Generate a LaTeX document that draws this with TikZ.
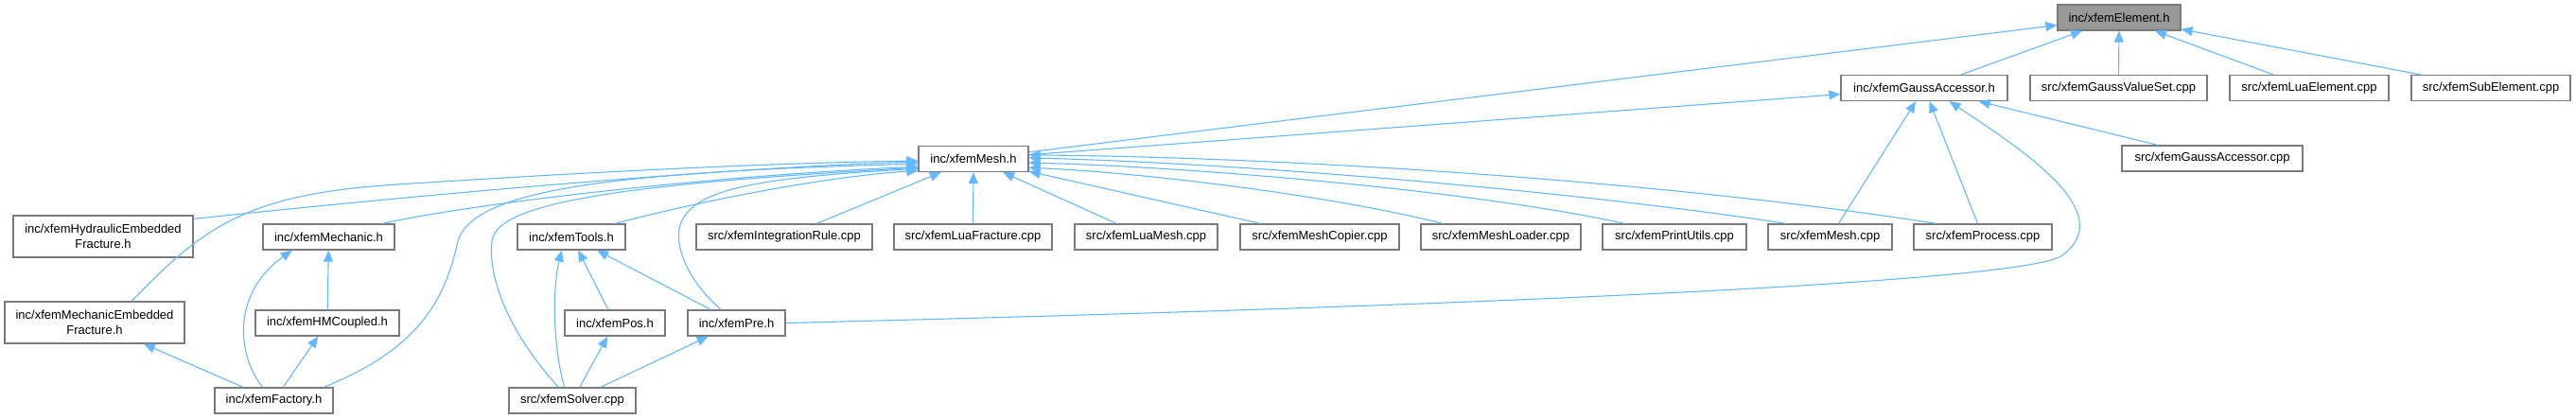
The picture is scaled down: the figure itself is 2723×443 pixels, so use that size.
\documentclass[tikz,border=0pt]{standalone}
\usepackage{fontspec}
\setmainfont{Liberation Sans}
\usetikzlibrary{arrows.meta}

\definecolor{edgeblue}{HTML}{63B8FF}
\definecolor{boxgray}{HTML}{7A7A7A}
\definecolor{fillgray}{HTML}{999999}

\tikzset{
  filebox/.style={draw=boxgray, line width=1.2pt, fill=white, minimum height=27pt,
    inner sep=0pt, align=center, font=\fontsize{13pt}{16pt}\selectfont},
  incl/.style={-{Triangle[length=12pt,width=10pt]}, draw=edgeblue, line width=1.1pt},
}

\begin{document}
\begin{tikzpicture}[x=1pt,y=-1pt]
\useasboundingbox (0,0) rectangle (2723,443);

% files
\node[filebox, fill=fillgray, minimum width=130pt] (elem) at (2240,18.5) {inc/xfemElement.h};

\node[filebox, minimum width=176pt] (gacc)  at (2034,93)   {inc/xfemGaussAccessor.h};
\node[filebox, minimum width=187pt] (gvs)   at (2239.5,93) {src/xfemGaussValueSet.cpp};
\node[filebox, minimum width=168pt] (luael) at (2441,93)   {src/xfemLuaElement.cpp};
\node[filebox, minimum width=168pt] (subel) at (2633,93)   {src/xfemSubElement.cpp};

\node[filebox, minimum width=116pt] (mesh)    at (1029,168)     {inc/xfemMesh.h};
\node[filebox, minimum width=191pt] (gacccpp) at (2338.5,167.5) {src/xfemGaussAccessor.cpp};

\node[filebox, minimum width=190pt, minimum height=44pt] (hydr) at (109,250) {inc/xfemHydraulicEmbedded\\Fracture.h};
\node[filebox, minimum width=139pt] (mech)    at (347.5,250.5)  {inc/xfemMechanic.h};
\node[filebox, minimum width=114pt] (tools)   at (604,250.5)    {inc/xfemTools.h};
\node[filebox, minimum width=186pt] (intrule) at (829,250.5)    {src/xfemIntegrationRule.cpp};
\node[filebox, minimum width=167pt] (luafrac) at (1028.5,250.5) {src/xfemLuaFracture.cpp};
\node[filebox, minimum width=151pt] (luamesh) at (1211.5,250.5) {src/xfemLuaMesh.cpp};
\node[filebox, minimum width=168pt] (copier)  at (1395,250.5)   {src/xfemMeshCopier.cpp};
\node[filebox, minimum width=169pt] (loader)  at (1586.5,250.5) {src/xfemMeshLoader.cpp};
\node[filebox, minimum width=152pt] (putil)   at (1770,250.5)   {src/xfemPrintUtils.cpp};
\node[filebox, minimum width=131pt] (xmesh)   at (1934.5,250.5) {src/xfemMesh.cpp};
\node[filebox, minimum width=146pt] (proc)    at (2096,250.5)   {src/xfemProcess.cpp};

\node[filebox, minimum width=190pt, minimum height=44pt] (mecemb) at (100,341) {inc/xfemMechanicEmbedded\\Fracture.h};
\node[filebox, minimum width=152pt] (hmc) at (346,341.5)   {inc/xfemHMCoupled.h};
\node[filebox, minimum width=106pt] (pos) at (650,341.5)   {inc/xfemPos.h};
\node[filebox, minimum width=103pt] (pre) at (778.5,341.5) {inc/xfemPre.h};

\node[filebox, minimum width=125pt] (fact)   at (289.5,423.5) {inc/xfemFactory.h};
\node[filebox, minimum width=134pt] (solver) at (605,423.5)   {src/xfemSolver.cpp};

% includes of xfemElement.h
\draw[incl] (mesh) -- (elem);
\draw[incl] (gacc) -- (elem);
\draw[incl] (gvs) -- (elem);
\draw[incl] (luael) -- (elem);
\draw[incl] (subel) -- (elem);

% includes of xfemGaussAccessor.h
\draw[incl] (mesh) -- (gacc);
\draw[incl] (gacccpp) -- (gacc);
\draw[incl] (xmesh) -- (gacc);
\draw[incl] (proc) -- (gacc);
\draw[incl] (pre.east) .. controls (1500,325) and (2140,300) .. (2180,270)
  .. controls (2240,225) and (2140,160) .. (gacc.-28);

% includes of xfemMesh.h
\draw[incl] (hydr.11) .. controls (500,200) and (800,176) .. (mesh.183);
\draw[incl] (mecemb.30) .. controls (215,240) and (260,205) .. (420,195)
  .. controls (620,182) and (820,172) .. (mesh.182);
\draw[incl] (mech.14) .. controls (500,215) and (750,186) .. (mesh.188);
\draw[incl] (fact.15) .. controls (440,370) and (470,320) .. (484,255)
  .. controls (500,200) and (650,182) .. (mesh.185);
\draw[incl] (solver.136) .. controls (545,360) and (515,300) .. (520,255)
  .. controls (525,215) and (650,195) .. (mesh.189);
\draw[incl] (tools.17) .. controls (750,210) and (880,186) .. (mesh.192);
\draw[incl] (pre.139) .. controls (730,300) and (710,260) .. (720,235)
  .. controls (735,200) and (800,188) .. (mesh.190);
\draw[incl] (intrule) -- (mesh);
\draw[incl] (luafrac) -- (mesh);
\draw[incl] (luamesh) -- (mesh);
\draw[incl] (copier) -- (mesh);
\draw[incl] (loader.167) .. controls (1400,205) and (1200,182) .. (mesh.-9);
\draw[incl] (putil.165) .. controls (1550,200) and (1250,176) .. (mesh.-4);
\draw[incl] (xmesh.163) .. controls (1650,200) and (1300,172) .. (mesh.1);
\draw[incl] (proc.164) .. controls (1750,190) and (1350,166) .. (mesh.4);

% includes of xfemMechanic.h and the embedded fracture headers
\draw[incl] (hmc) -- (mech);
\draw[incl] (fact.130) .. controls (250,375) and (245,310) .. (mech.200);
\draw[incl] (fact) -- (mecemb);
\draw[incl] (fact) -- (hmc);

% includes of xfemTools.h, xfemPos.h and xfemPre.h
\draw[incl] (solver.121) .. controls (583,360) and (585,300) .. (tools.234);
\draw[incl] (pos) -- (tools);
\draw[incl] (pre) -- (tools);
\draw[incl] (solver) -- (pos);
\draw[incl] (solver) -- (pre);
\end{tikzpicture}
\end{document}
